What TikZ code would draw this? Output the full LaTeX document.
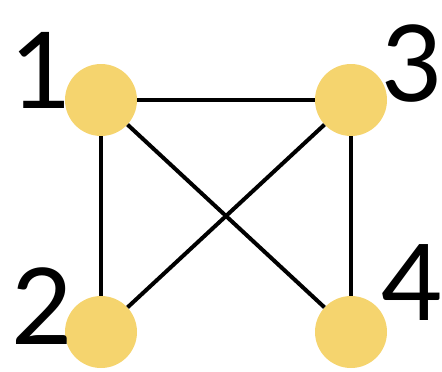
\documentclass[tikz,border=0pt]{standalone}
\usepackage{fontspec}
\setmainfont{Lato}
\definecolor{nodeyellow}{HTML}{F5D46E}
\begin{document}
\begin{tikzpicture}[x=1pt,y=-1pt,
  vert/.style={circle,fill=nodeyellow,minimum size=72pt,inner sep=0pt},
  lbl/.style={inner sep=0pt,font=\fontsize{106}{106}\selectfont},
  edge/.style={line width=4pt}]
\useasboundingbox (0,0) rectangle (442,372);
\node[vert] (n1) at (101,100) {};
\node[vert] (n3) at (351,100) {};
\node[vert] (n2) at (101,332) {};
\node[vert] (n4) at (351,332) {};
\draw[edge] (n1) -- (n3);
\draw[edge] (n1) -- (n2);
\draw[edge] (n1) -- (n4);
\draw[edge] (n3) -- (n2);
\draw[edge] (n3) -- (n4);
\node[lbl] (l1) at (41,70) {1};
\node[lbl] (l3) at (412,64) {3};
\node[lbl] (l2) at (42,306) {2};
\node[lbl] (l4) at (412,283) {4};
\end{tikzpicture}
\end{document}
